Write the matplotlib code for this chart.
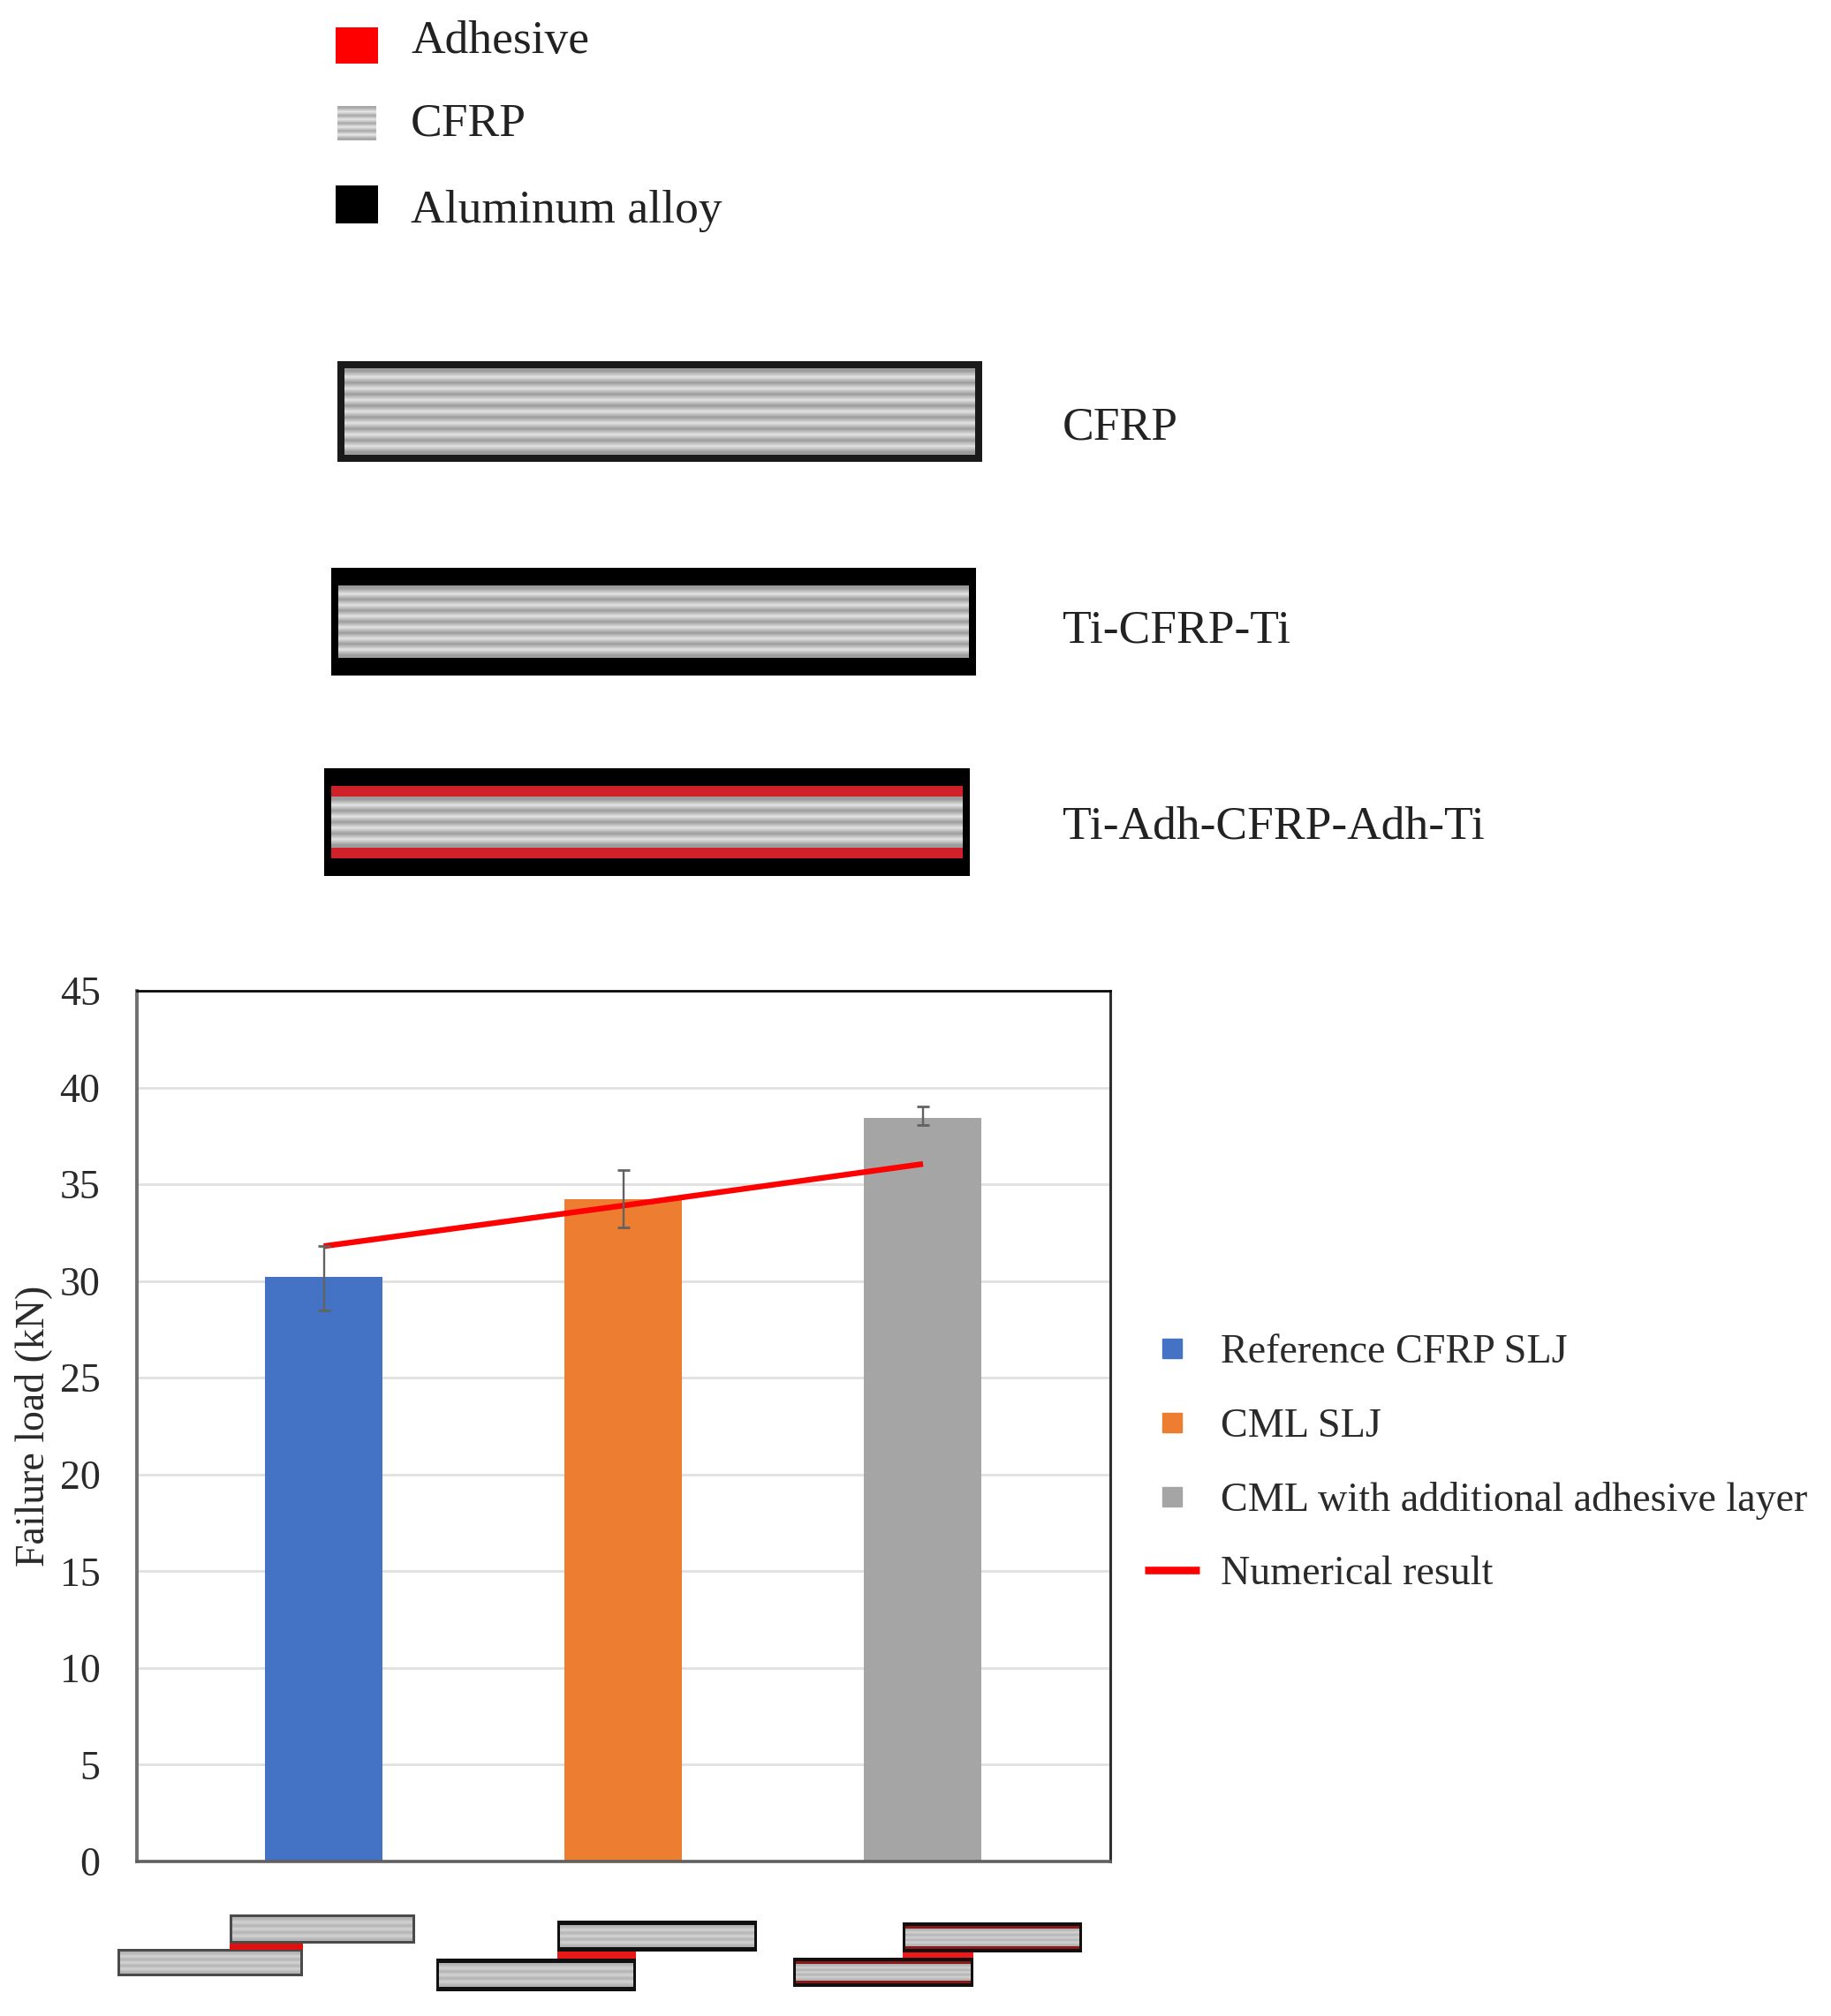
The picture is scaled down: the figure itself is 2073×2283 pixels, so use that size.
import numpy as np
import matplotlib
matplotlib.use("Agg")
import matplotlib.pyplot as plt
from matplotlib.lines import Line2D
from matplotlib.patches import Rectangle

plt.rcParams['font.family'] = ['Liberation Serif', 'DejaVu Serif']

# ---- chart data ----
categories = ["Reference CFRP SLJ", "CML SLJ", "CML with additional adhesive layer"]
failure_load = [30.2, 34.25, 38.45]
err_low = [1.7, 1.5, 0.4]
err_high = [1.6, 1.5, 0.55]
numerical = [31.8, 33.9, 36.05]
numerical_label = "Numerical result"
bar_colors = ["#4472C4", "#ED7D31", "#A5A5A5"]
y_ticks = list(range(0, 50, 5))
y_label = "Failure load (kN)"
top_legend = ["Adhesive", "CFRP", "Aluminum alloy"]
panel_labels = ["CFRP", "Ti-CFRP-Ti", "Ti-Adh-CFRP-Adh-Ti"]

W, H = 2073, 2283
fig = plt.figure(figsize=(W / 100, H / 100), dpi=100, facecolor="white")

# ---- bar chart ----
AX_L, AX_R, AX_T, AX_B = 154.5, 1257, 1122, 2108
ax = fig.add_axes([AX_L / W, 1 - AX_B / H, (AX_R - AX_L) / W, (AX_B - AX_T) / H])
x = np.arange(len(categories))
ax.bar(x, failure_load, width=0.392, color=bar_colors, zorder=2)
ax.plot(x, numerical, color="#FF0000", lw=4.6, zorder=3, solid_capstyle="butt")
ax.errorbar(x, failure_load, yerr=[err_low, err_high], fmt="none", ecolor="#626262",
            elinewidth=1.7, capsize=4.7, capthick=2.0, zorder=4)
ax.set_xlim(-0.625, 2.625)
ax.set_ylim(0, 45)
ax.set_xticks([])
ax.set_yticks(y_ticks)
ax.yaxis.grid(True, color="#E0E0E0", lw=2.0, zorder=0)
ax.set_axisbelow(True)
ax.tick_params(axis="y", length=0, pad=29.5, labelsize=33, labelcolor="#2a2a2a")
for name, lw, col in [("left", 2.8, "#707070"), ("bottom", 2.6, "#606060"),
                      ("top", 2.0, "#0a0a0a"), ("right", 2.2, "#303030")]:
    ax.spines[name].set_linewidth(lw)
    ax.spines[name].set_color(col)
ax.set_ylabel(y_label, fontsize=33, color="#2a2a2a")
ax.yaxis.set_label_coords((59 - AX_L) / (AX_R - AX_L), 0.5)

handles = [Line2D([], [], ls="none", marker="s", ms=16.5, color=c, label=l)
           for c, l in zip(bar_colors, categories)]
handles.append(Line2D([], [], color="#FF0000", lw=6.2, solid_capstyle="butt", label=numerical_label))
fig.legend(handles=handles, loc="upper left", bbox_to_anchor=(1296 / W, 1 - 1510.7 / H),
           bbox_transform=fig.transFigure, frameon=False, fontsize=33.2, labelcolor="#2a2a2a",
           handlelength=1.345, handletextpad=0.52, labelspacing=0.89, borderaxespad=0, borderpad=0)

# ---- schematic overlay, in image pixels ----
ov = fig.add_axes([0, 0, 1, 1], zorder=-1)
ov.set_axis_off()


def stripes(x0, y0, x1, y1, n, light="#e2e2e2", dark="#9c9c9c"):
    rows = [[dark, light][i % 2] for i in range(2 * n + 1)]
    vals = np.array([[int(c[1:3], 16) / 255.0] for c in rows])
    ov.imshow(vals, extent=(x0, x1, y1, y0), aspect="auto", cmap="gray", vmin=0, vmax=1,
              interpolation="bilinear", zorder=1)


def rect(x0, y0, x1, y1, color, z=2):
    ov.add_patch(Rectangle((x0, y0), x1 - x0, y1 - y0, fc=color, ec="none", zorder=z))


def laminate(x0, y0, x1, y1, n, side, metal=0, adh=0, light="#e2e2e2", dark="#9c9c9c",
             adh_color="#d0202a", edge="#000000"):
    rect(x0, y0, x1, y1, edge, 1)
    ix0, ix1 = x0 + side, x1 - side
    iy0, iy1 = y0 + max(metal, side), y1 - max(metal, side)
    stripes(ix0, iy0 + adh, ix1, iy1 - adh, n, light, dark)
    rect(x0, y0, x1, y0 + max(metal, side), edge)
    rect(x0, y1 - max(metal, side), x1, y1, edge)
    rect(x0, y0, ix0, y1, edge)
    rect(ix1, y0, x1, y1, edge)
    if adh:
        rect(ix0, iy0, ix1, iy0 + adh, adh_color)
        rect(ix0, iy1 - adh, ix1, iy1, adh_color)


# top legend
rect(380, 31, 428, 72, "#FF0000")
stripes(382, 120, 426, 159, 4, "#e6e6e6", "#a8a8a8")
rect(380, 210, 428, 253, "#000000")
for label, yc in zip(top_legend, [47, 141, 239]):
    ov.text(465, yc, label, fontsize=38.5, color="#222222", va="center", ha="left")

# panels
laminate(382, 409, 1112, 523, 7, 8, metal=8, edge="#1a1a1a")
laminate(375, 643, 1105, 765, 6, 8, metal=20)
laminate(367, 870, 1098, 992, 4, 8, metal=20, adh=12)
for label, yc in zip(panel_labels, [485, 715, 937]):
    ov.text(1203, yc, label, fontsize=38.5, color="#222222", va="center", ha="left")

# joints under the bars
LG, DG = "#d2d2d2", "#b4b4b4"
laminate(260, 2168, 470, 2201, 3, 3, metal=3, light=LG, dark=DG, edge="#4a4a4a")
laminate(133, 2207, 343, 2238, 3, 3, metal=3, light=LG, dark=DG, edge="#4a4a4a")
rect(260, 2201, 343, 2208, "#E01010", 3)

laminate(631, 2175, 857, 2210, 3, 3, metal=5, light=LG, dark=DG, edge="#101010")
laminate(494, 2218, 720, 2255, 3, 3, metal=5, light=LG, dark=DG, edge="#101010")
rect(631, 2210, 720, 2218, "#E81818", 3)

laminate(1022, 2177, 1225, 2211, 3, 3, metal=4, adh=3, light=LG, dark=DG, adh_color="#8a1a1a", edge="#101010")
laminate(898, 2217, 1102, 2250, 3, 3, metal=4, adh=3, light=LG, dark=DG, adh_color="#8a1a1a", edge="#101010")
rect(1022, 2211, 1102, 2217, "#F01818", 3)

ov.set_xlim(0, W)
ov.set_ylim(H, 0)

fig.savefig("out.png", dpi=100, facecolor="white")
